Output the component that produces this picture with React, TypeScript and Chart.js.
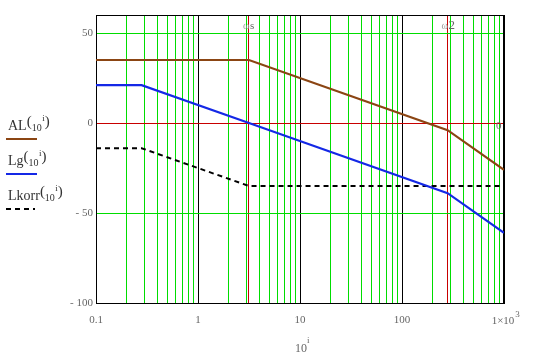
import React, { useEffect, useRef } from "react";
import { Chart, registerables } from "chart.js";

Chart.register(...registerables);

// ---- data ----
const freq = [0.1, 0.28, 3.16, 280, 1000];
const alValues = [35, 35, 35, -4, -26];
const lgValues = [21, 21, 0, -39, -61];
const lkorrValues = [-14, -14, -35, -35, -35];

const markerFreqs = [3.16, 280];
const markerSubs = ["s", "2"];

const yTickValues = [-100, -50, 0, 50];
const yTickLabels = ["- 100", "- 50", "0", "50"];

const xMajorValues = [0.1, 1, 10, 100, 1000];
const xMajorLabels = ["0.1", "1", "10", "100", ""];
const xLastLabelBase = "1×10";
const xLastLabelExp = "3";

const legendNames = ["AL", "Lg", "Lkorr"];
const legendColors = ["#8b4513", "#1428e6", "#000000"];

const SERIF = "'Liberation Serif', 'DejaVu Serif', serif";
const GREEN = "#00dd00";
const RED = "#c80000";
const TEXT = "#666666";

const near = (a: number, b: number) => Math.abs(a - b) / Math.max(Math.abs(b), 1e-9) < 1e-6;

function buildXTicks() {
  const vals: number[] = [];
  [0.1, 1, 10, 100].forEach((d) => {
    for (let k = 1; k <= 9; k++) vals.push(+(d * k).toPrecision(6));
  });
  vals.push(1000);
  markerFreqs.forEach((m) => vals.push(m));
  return vals.sort((a, b) => a - b);
}

const textPlugin = {
  id: "mathcadText",
  beforeDatasetsDraw(chart: any) {
    const { ctx, chartArea } = chart;
    ctx.save();
    ctx.strokeStyle = "#000";
    ctx.lineWidth = 1;
    ctx.strokeRect(chartArea.left + 0.5, chartArea.top + 0.5, chartArea.right - chartArea.left - 1, chartArea.bottom - chartArea.top);
    ctx.restore();
  },
  afterDraw(chart: any) {
    const { ctx, scales } = chart;
    const xs = scales.x;
    const ys = scales.y;
    ctx.save();
    ctx.textBaseline = "alphabetic";

    // marker labels at top
    markerFreqs.forEach((m, i) => {
      const px = xs.getPixelForValue(m);
      ctx.fillStyle = "#999999";
      ctx.font = `10px ${SERIF}`;
      ctx.textAlign = "left";
      ctx.fillText("ω", px - 6, 29);
      ctx.fillStyle = TEXT;
      ctx.font = `${i === 0 ? 11 : 13}px ${SERIF}`;
      ctx.fillText(markerSubs[i], px + 1, 29);
    });

    // right "0" label
    ctx.fillStyle = TEXT;
    ctx.font = `11px ${SERIF}`;
    ctx.textAlign = "left";
    ctx.fillText("0", xs.right - 8, ys.getPixelForValue(0) + 6);

    // last x tick label 1×10^3
    const lastX = xs.getPixelForValue(1000);
    ctx.font = `11px ${SERIF}`;
    const bw = ctx.measureText(xLastLabelBase).width;
    ctx.fillText(xLastLabelBase, lastX - bw / 2 - 1, 324);
    ctx.font = `9px ${SERIF}`;
    ctx.fillText(xLastLabelExp, lastX + bw / 2, 317);

    // x axis title 10^i
    ctx.fillStyle = TEXT;
    ctx.font = `12px ${SERIF}`;
    ctx.textAlign = "left";
    ctx.fillText("10", 295, 352);
    ctx.font = `9px ${SERIF}`;
    ctx.fillText("i", 307, 343);

    // legend
    const baseY = [130, 165, 200];
    legendNames.forEach((name, i) => {
      const by = baseY[i];
      ctx.fillStyle = "#333333";
      ctx.textAlign = "left";
      ctx.font = `14px ${SERIF}`;
      ctx.fillText(name, 8, by);
      let x = 8 + ctx.measureText(name).width;
      ctx.font = `15px ${SERIF}`;
      ctx.fillText("(", x, by - 4);
      x += ctx.measureText("(").width;
      ctx.font = `10px ${SERIF}`;
      ctx.fillText("10", x, by + 1);
      x += ctx.measureText("10").width + 0.5;
      ctx.font = `9px ${SERIF}`;
      ctx.fillText("i", x, by - 9);
      x += ctx.measureText("i").width;
      ctx.font = `15px ${SERIF}`;
      ctx.fillText(")", x, by - 4);

      const ly = by + 9;
      ctx.strokeStyle = legendColors[i];
      ctx.lineWidth = 2;
      ctx.setLineDash(i === 2 ? [5, 4] : []);
      ctx.beginPath();
      ctx.moveTo(6, ly);
      ctx.lineTo(i === 2 ? 35 : 37, ly);
      ctx.stroke();
      ctx.setLineDash([]);
    });

    ctx.restore();
  },
};

export default function App() {
  const ref = useRef<HTMLCanvasElement | null>(null);

  useEffect(() => {
    document.body.style.margin = "0";
    const canvas = ref.current!;
    const mk = (vals: number[]) => freq.map((f, i) => ({ x: f, y: vals[i] }));
    const chart = new Chart(canvas, {
      type: "line",
      data: {
        datasets: [
          { label: "AL", data: mk(alValues), borderColor: legendColors[0], borderWidth: 2.2, pointRadius: 0, fill: false },
          { label: "Lg", data: mk(lgValues), borderColor: legendColors[1], borderWidth: 2.2, pointRadius: 0, fill: false },
          { label: "Lkorr", data: mk(lkorrValues), borderColor: legendColors[2], borderWidth: 2, borderDash: [5, 4], pointRadius: 0, fill: false },
        ],
      },
      options: {
        animation: false,
        responsive: false,
        devicePixelRatio: 1,
        layout: { padding: { left: 0, right: 34, top: 15, bottom: 0 } },
        plugins: { legend: { display: false }, tooltip: { enabled: false } },
        scales: {
          x: {
            type: "logarithmic",
            min: 0.1,
            max: 1000,
            afterBuildTicks: (scale: any) => {
              scale.ticks = buildXTicks().map((v) => ({ value: v }));
            },
            afterFit: (scale: any) => {
              scale.height = 53;
            },
            ticks: {
              autoSkip: false,
              maxRotation: 0,
              minRotation: 0,
              padding: 11,
              color: TEXT,
              font: { family: SERIF, size: 11 },
              callback: (value: any) => {
                const idx = xMajorValues.findIndex((m) => near(Number(value), m));
                return idx >= 0 ? xMajorLabels[idx] : "";
              },
            },
            grid: {
              drawTicks: false,
              lineWidth: 1,
              color: (c: any) => {
                const v = c.tick ? c.tick.value : 0;
                if (markerFreqs.some((m) => near(v, m))) return RED;
                if (xMajorValues.some((m) => near(v, m))) return "#000000";
                return GREEN;
              },
            },
            border: { display: true, color: "#000000", width: 1 },
          },
          y: {
            type: "linear",
            min: -100,
            max: 60,
            afterBuildTicks: (scale: any) => {
              scale.ticks = yTickValues.map((v) => ({ value: v }));
            },
            afterFit: (scale: any) => {
              scale.width = 96;
            },
            ticks: {
              autoSkip: false,
              padding: 3,
              color: TEXT,
              font: { family: SERIF, size: 11 },
              callback: (value: any) => {
                const idx = yTickValues.indexOf(Number(value));
                return idx >= 0 ? yTickLabels[idx] : "";
              },
            },
            grid: {
              drawTicks: false,
              lineWidth: 1,
              color: (c: any) => {
                const v = c.tick ? c.tick.value : 0;
                if (v === 0) return RED;
                if (v === -100) return "#000000";
                return GREEN;
              },
            },
            border: { display: true, color: "#000000", width: 1 },
          },
        },
      },
      plugins: [textPlugin],
    });
    return () => chart.destroy();
  }, []);

  return (
    <div style={{ position: "fixed", left: 0, top: 0, width: 538, height: 356, background: "#fff" }}>
      <canvas ref={ref} width={538} height={356} style={{ display: "block", width: 538, height: 356 }} />
    </div>
  );
}
